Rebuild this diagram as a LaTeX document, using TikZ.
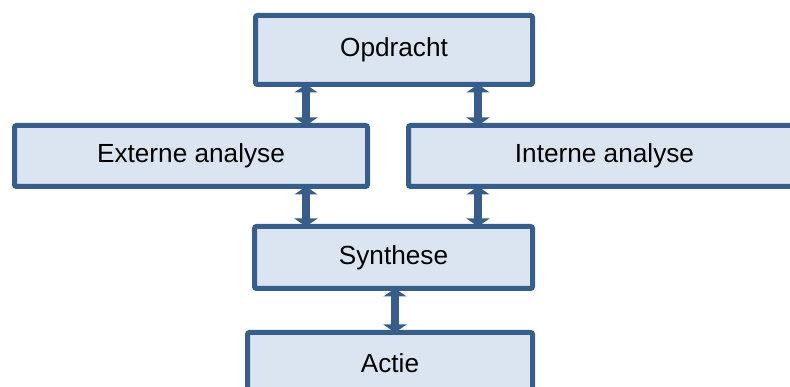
\documentclass[tikz,border=0pt]{standalone}
\usepackage{fontspec}
\setmainfont{Liberation Sans}
\usetikzlibrary{arrows.meta}
\definecolor{bordc}{HTML}{385D8A}
\definecolor{fillc}{HTML}{DBE5F1}
\begin{document}
\begin{tikzpicture}[x=1pt,y=-1pt,
  box/.style={draw=bordc,fill=fillc,line width=5pt,rounded corners=2pt,
    inner sep=0pt,outer sep=0pt,font=\fontsize{26.2}{30}\selectfont,text=black},
  dbl/.style={draw=bordc,line width=8pt,
    {Triangle[width=23pt,length=8pt]}-{Triangle[width=23pt,length=8pt]}}]
\clip (0,0) rectangle (790,387);
\fill[white] (0,0) rectangle (790,387);
\node[box,minimum width=277pt,minimum height=69pt] (opd) at (394,50) {Opdracht};
\node[box,minimum width=353pt,minimum height=61pt] (ext) at (191,156) {Externe analyse};
\node[box,minimum width=392pt,minimum height=61pt] (int) at (604.5,156) {Interne analyse};
\node[box,minimum width=278pt,minimum height=62pt] (syn) at (393.5,257.5) {Synthese};
\node[box,minimum width=285pt,minimum height=62pt] (act) at (390,363.5) {Actie};
\coordinate (xl) at (306,0);
\coordinate (xr) at (478,0);
\coordinate (xm) at (395,0);
\draw[dbl] (opd.south -| xl) -- (ext.north -| xl);
\draw[dbl] (opd.south -| xr) -- (int.north -| xr);
\draw[dbl] (ext.south -| xl) -- (syn.north -| xl);
\draw[dbl] (int.south -| xr) -- (syn.north -| xr);
\draw[dbl] (syn.south -| xm) -- (act.north -| xm);
\end{tikzpicture}
\end{document}
